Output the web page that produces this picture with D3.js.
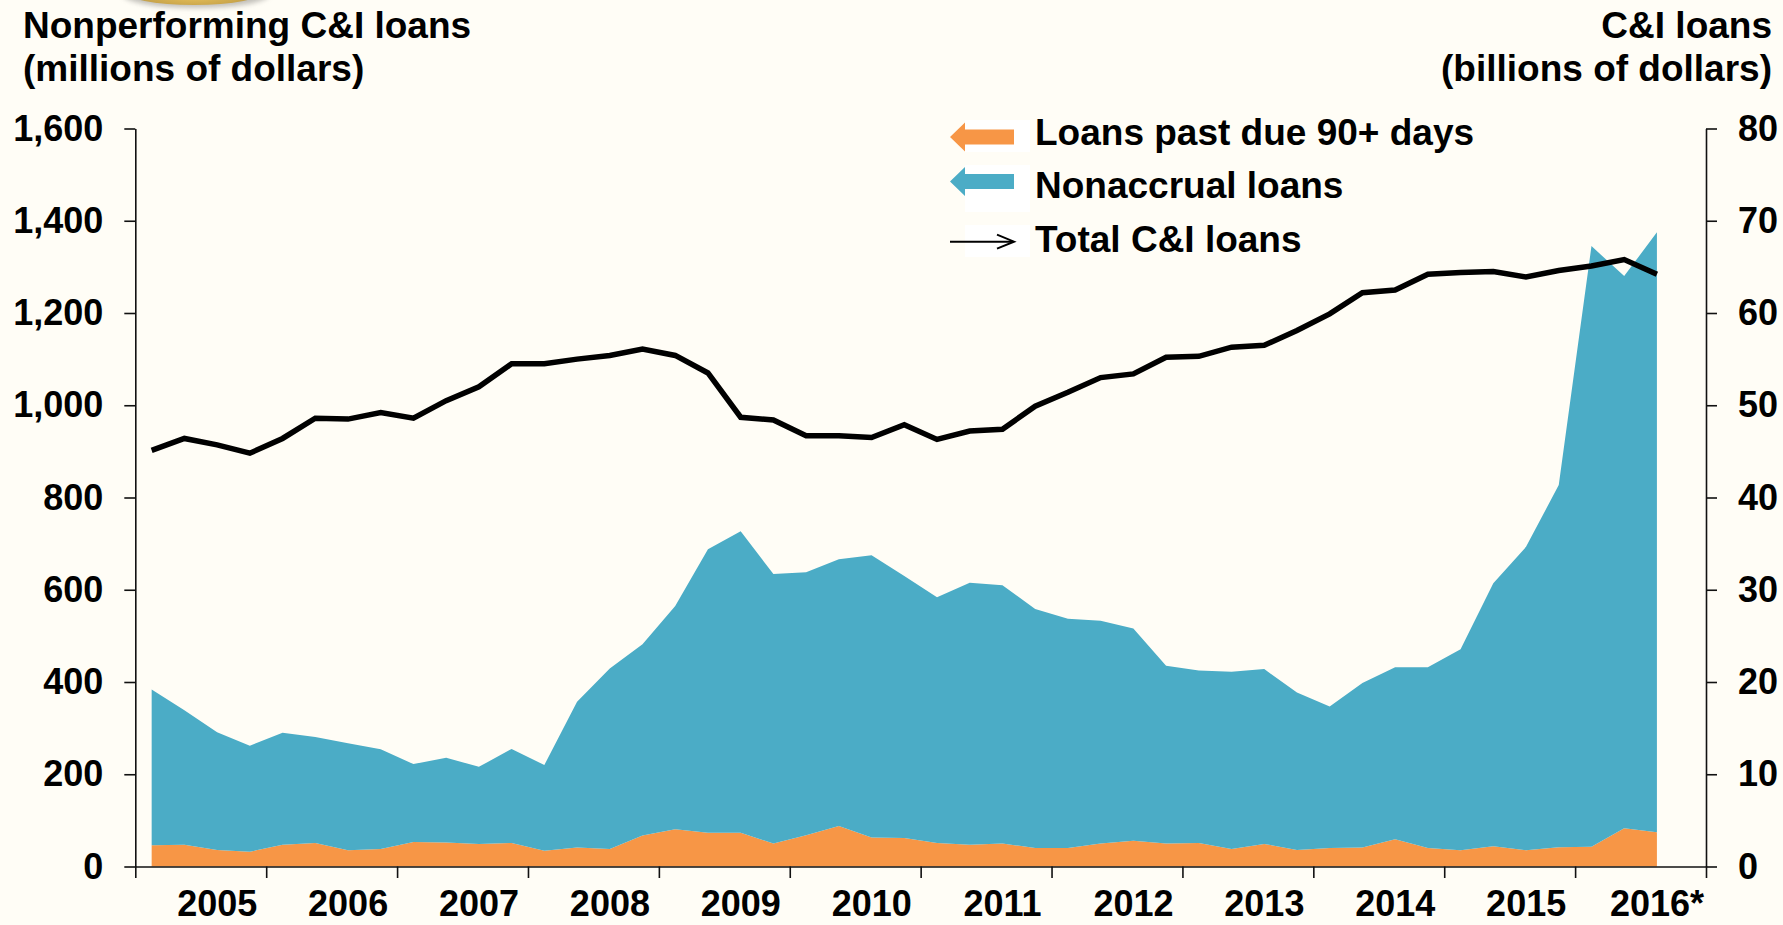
<!DOCTYPE html>
<html>
<head>
<meta charset="utf-8">
<script src="https://cdn.jsdelivr.net/npm/d3@7/dist/d3.min.js"></script>
<style>
  html, body { margin: 0; padding: 0; background: #FFFDF6; }
  svg { display: block; }
  text { font-family: "Liberation Sans", Arial, Helvetica, sans-serif; font-weight: bold; fill: #000; }
</style>
</head>
<body>
<svg id="chart" width="1783" height="925"></svg>
<script>
// ---------------- DATA ----------------
const quarters = [
  "2005Q1","2005Q2","2005Q3","2005Q4","2006Q1","2006Q2","2006Q3","2006Q4",
  "2007Q1","2007Q2","2007Q3","2007Q4","2008Q1","2008Q2","2008Q3","2008Q4",
  "2009Q1","2009Q2","2009Q3","2009Q4","2010Q1","2010Q2","2010Q3","2010Q4",
  "2011Q1","2011Q2","2011Q3","2011Q4","2012Q1","2012Q2","2012Q3","2012Q4",
  "2013Q1","2013Q2","2013Q3","2013Q4","2014Q1","2014Q2","2014Q3","2014Q4",
  "2015Q1","2015Q2","2015Q3","2015Q4","2016Q1","2016Q2","2016Q3"
];
// Loans past due 90+ days (millions of dollars)
const pastDue = [
  46, 47, 36, 32, 47, 51, 35, 38, 53, 52, 49, 51, 34, 41, 38, 67,
  81, 73, 73, 50, 68, 88, 63, 62, 51, 47, 50, 40, 40, 50, 56, 50,
  51, 38, 49, 36, 40, 41, 59, 40, 35, 44, 35, 42, 43, 83, 74
];
// Nonaccrual loans (millions of dollars)
const nonaccrual = [
  338, 292, 255, 230, 243, 230, 232, 216, 169, 184, 167, 204, 186, 316, 391, 415,
  484, 615, 654, 584, 570, 578, 612, 568, 533, 568, 560, 518, 497, 483, 460, 385,
  374, 384, 379, 341, 307, 357, 373, 392, 436, 570, 658, 785, 1302, 1197, 1301
];
// Total C&I loans (billions of dollars)
const totalCI = [
  45.1, 46.4, 45.7, 44.8, 46.4, 48.6, 48.5, 49.2, 48.6, 50.5, 52.0, 54.5, 54.5, 55.0, 55.4, 56.1,
  55.4, 53.5, 48.7, 48.4, 46.7, 46.7, 46.5, 47.9, 46.3, 47.2, 47.4, 49.9, 51.4, 53.0, 53.4, 55.2,
  55.3, 56.3, 56.5, 58.1, 59.9, 62.2, 62.5, 64.2, 64.4, 64.5, 63.9, 64.6, 65.1, 65.8, 64.2
];
const leftTicks = [0, 200, 400, 600, 800, 1000, 1200, 1400, 1600];
const rightTicks = [0, 10, 20, 30, 40, 50, 60, 70, 80];
const yearTicks = [2005, 2006, 2007, 2008, 2009, 2010, 2011, 2012, 2013, 2014, 2015, 2016, 2017];
const yearLabels = ["2005", "2006", "2007", "2008", "2009", "2010", "2011", "2012", "2013", "2014", "2015", "2016*"];
const legendItems = ["Loans past due 90+ days", "Nonaccrual loans", "Total C&I loans"];
const titleLeft = ["Nonperforming C&I loans", "(millions of dollars)"];
const titleRight = ["C&I loans", "(billions of dollars)"];

// ---------------- LAYOUT ----------------
const W = 1783, H = 925;
const plot = { left: 135.3, right: 1706, top: 128.5, bottom: 866.5 };
const colOrange = "#F79646", colBlue = "#4BACC6";

const svg = d3.select("#chart");

// background
svg.append("rect").attr("width", W).attr("height", H).attr("fill", "#FFFDF6");

// partial seal peeking in at the top edge
const defs = svg.append("defs");
const rg = defs.append("radialGradient").attr("id", "seal").attr("cx", "50%").attr("cy", "70%").attr("r", "55%");
rg.append("stop").attr("offset", "0%").attr("stop-color", "#E6C05A");
rg.append("stop").attr("offset", "65%").attr("stop-color", "#C8A44A");
rg.append("stop").attr("offset", "100%").attr("stop-color", "#A09C90");
const blur = defs.append("filter").attr("id", "sh").attr("x", "-20%").attr("y", "-50%").attr("width", "140%").attr("height", "200%");
blur.append("feGaussianBlur").attr("stdDeviation", 2.5);
svg.append("ellipse").attr("cx", 196).attr("cy", -6).attr("rx", 74).attr("ry", 14).attr("fill", "#8f8d88").attr("opacity", 0.55).attr("filter", "url(#sh)");
svg.append("ellipse").attr("cx", 194).attr("cy", -9).attr("rx", 70).attr("ry", 14).attr("fill", "url(#seal)");

// ---------------- SCALES ----------------
const tq = q => +q.slice(0, 4) + (+q.slice(5) - 1) / 4 + 0.125;
const x = d3.scaleLinear().domain([2005, 2017]).range([plot.left, plot.right]);
const yL = d3.scaleLinear().domain([0, 1600]).range([plot.bottom, plot.top]);
const yR = d3.scaleLinear().domain([0, 80]).range([plot.bottom, plot.top]);

// ---------------- AREAS ----------------
const rows = quarters.map((q, i) => ({ q, pastDue: pastDue[i], nonaccrual: nonaccrual[i] }));
const stacked = d3.stack().keys(["pastDue", "nonaccrual"])(rows);
const area = d3.area()
  .x(d => x(tq(d.data.q)))
  .y0(d => yL(d[0]))
  .y1(d => yL(d[1]));
const fills = { pastDue: colOrange, nonaccrual: colBlue };
svg.append("g").selectAll("path").data(stacked).join("path")
  .attr("d", area)
  .attr("fill", d => fills[d.key]);

// ---------------- LINE ----------------
const line = d3.line().x((d, i) => x(tq(quarters[i]))).y(d => yR(d));
svg.append("path").datum(totalCI)
  .attr("d", line)
  .attr("fill", "none")
  .attr("stroke", "#000")
  .attr("stroke-width", 5.5)
  .attr("stroke-linejoin", "miter");

// ---------------- AXES ----------------
function styleAxis(g) {
  g.attr("font-family", null).attr("font-size", null);
  g.selectAll("path.domain").attr("stroke", "#111").attr("stroke-width", 1.6);
  g.selectAll(".tick line").attr("stroke", "#111").attr("stroke-width", 1.6);
  g.selectAll(".tick text").style("font-family", '"Liberation Sans", Arial, sans-serif')
    .style("font-weight", "bold").style("font-size", "36px").attr("fill", "#000");
}
const axL = svg.append("g").attr("transform", `translate(${plot.left},0)`)
  .call(d3.axisLeft(yL).tickValues(leftTicks).tickFormat(d3.format(",")).tickSize(11).tickSizeOuter(0).tickPadding(21));
styleAxis(axL);

const axR = svg.append("g").attr("transform", `translate(${plot.right},0)`)
  .call(d3.axisRight(yR).tickValues(rightTicks).tickFormat(d3.format("d")).tickSize(11).tickSizeOuter(0).tickPadding(21));
styleAxis(axR);

const axB = svg.append("g").attr("transform", `translate(0,${plot.bottom})`)
  .call(d3.axisBottom(x).tickValues(yearTicks).tickFormat("").tickSize(11.5).tickSizeOuter(0));
styleAxis(axB);

// year labels, centred in each year interval
svg.append("g").selectAll("text").data(yearLabels).join("text")
  .attr("x", (d, i) => (x(yearTicks[i]) + x(yearTicks[i + 1])) / 2 + 16.5)
  .attr("y", 916)
  .attr("text-anchor", "middle")
  .style("font-size", "36px")
  .text(d => d);

// ---------------- TITLES ----------------
svg.append("g").selectAll("text").data(titleLeft).join("text")
  .attr("x", 23).attr("y", (d, i) => 37.5 + i * 43)
  .style("font-size", "37px").text(d => d);
svg.append("g").selectAll("text").data(titleRight).join("text")
  .attr("x", 1772).attr("y", (d, i) => 37.5 + i * 43)
  .attr("text-anchor", "end")
  .style("font-size", "37px").text(d => d);

// ---------------- LEGEND ----------------
const lg = svg.append("g");
const legY = [137, 181.5, 241.7];
const boxes = [[120, 32], [165, 47], [225, 32]];
boxes.forEach(b => lg.append("rect").attr("x", 965).attr("y", b[0]).attr("width", 65).attr("height", b[1]).attr("fill", "#FFFFFF"));

function blockArrow(cy, color) {
  const tip = 950, base = 965, end = 1014, hb = 7.5, hh = 14.5;
  lg.append("path")
    .attr("d", `M${tip},${cy} L${base},${cy - hh} L${base},${cy - hb} L${end},${cy - hb} L${end},${cy + hb} L${base},${cy + hb} L${base},${cy + hh} Z`)
    .attr("fill", color);
}
blockArrow(legY[0], colOrange);
blockArrow(legY[1], colBlue);
lg.append("line").attr("x1", 950).attr("x2", 1013).attr("y1", legY[2]).attr("y2", legY[2])
  .attr("stroke", "#000").attr("stroke-width", 2);
lg.append("path").attr("d", `M997,${legY[2] - 7} L1014,${legY[2]} L997,${legY[2] + 7}`)
  .attr("fill", "none").attr("stroke", "#000").attr("stroke-width", 2);

lg.selectAll("text").data(legendItems).join("text")
  .attr("x", 1035)
  .attr("y", (d, i) => [145, 198.3, 252][i])
  .style("font-size", "37px")
  .text(d => d);
</script>
</body>
</html>
